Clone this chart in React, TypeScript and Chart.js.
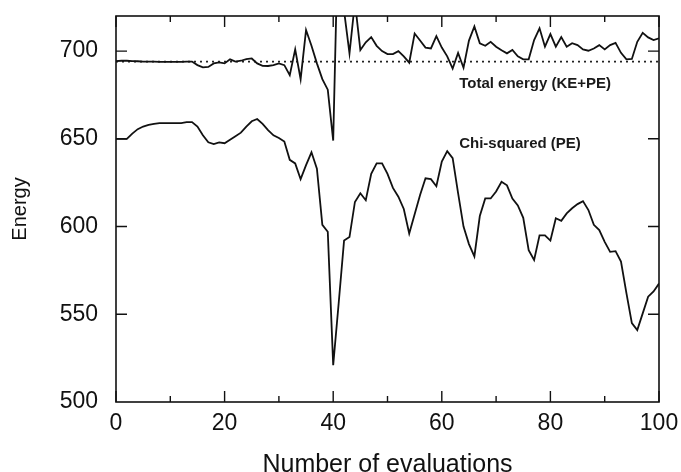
import React, { useEffect, useRef } from 'react';
import { Chart, registerables } from 'chart.js';

Chart.register(...registerables);

// Chi-squared (PE) per evaluation, evaluations 0..100
const chiSquared = [
  650, 650, 650, 653, 655.5, 657, 658, 658.5, 659, 659,
  659, 659, 659, 659.5, 659.5, 657, 652, 648, 647, 648,
  647.5, 649.5, 651.5, 653.5, 657, 660, 661.3, 658.5, 655, 652,
  650.5, 648.5, 638, 636, 627, 635, 642.3, 633, 601, 597,
  521, 556, 592, 594, 614, 619, 615, 630, 636, 636,
  630, 622, 617, 610, 596, 607, 618, 627.5, 627, 623,
  637, 643, 639, 619, 600, 590, 583, 606, 616, 616,
  620, 625.5, 623.5, 616, 612, 605, 586.5, 581, 595, 595,
  592, 604.7, 603.3, 607.5, 610.4, 612.8, 614.5, 609.4, 601, 598,
  591.3, 585.6, 586, 580, 562, 545, 541, 550.5, 560, 563, 567.5,
];

// Total energy (KE+PE) per evaluation, evaluations 0..100
const totalEnergy = [
  694.3, 694.5, 694.5, 694.3, 694.2, 694, 694, 694, 693.8, 693.8,
  693.8, 693.8, 693.8, 694, 694, 692, 690.7, 691, 693, 693.6,
  693, 695.3, 694, 694.5, 695.4, 695.8, 693, 691.6, 691.5, 692,
  693, 692, 686.3, 701, 684, 712, 703, 693, 684, 678,
  649, 780, 723, 698.7, 728, 700.6, 705, 708, 703, 700,
  698.3, 698.3, 700, 697, 693.4, 710, 706, 702, 701.5, 708.5,
  702, 697, 690, 699, 690.5, 706, 714, 704.4, 703, 705.3,
  702.5, 700.5, 698.7, 700.6, 697, 695.3, 695.3, 706.3, 713, 702.5,
  709.7, 702.5, 708, 702.5, 704.5, 703.4, 701, 700.2, 701.5, 703.4,
  701, 703.4, 704.7, 699, 695.3, 695.5, 705.3, 710.4, 707.8, 706.3, 707.3,
];

const initialEnergy = 694;
const xRange = [0, 100];
const yRange = [500, 720];
const xMajorTicks = [0, 20, 40, 60, 80, 100];
const xMinorTicks = [10, 30, 50, 70, 90];
const yMajorTicks = [550, 600, 650, 700];
const annotations = [
  { text: 'Total energy (KE+PE)', x: 63.2, y: 681.2 },
  { text: 'Chi-squared (PE)', x: 63.2, y: 647 },
];

const FONT = '"Liberation Sans", Arial, sans-serif';

const framePlugin = {
  id: 'frameTicks',
  afterDatasetsDraw(chart: any) {
    const { ctx, chartArea, scales } = chart;
    const { left, right, top, bottom } = chartArea;
    ctx.save();
    ctx.strokeStyle = '#111';
    ctx.lineWidth = 1.6;
    ctx.strokeRect(left, top, right - left, bottom - top);
    ctx.lineWidth = 1.4;
    ctx.beginPath();
    const xs = scales.x;
    const ys = scales.y;
    const drawX = (v: number, len: number) => {
      const px = xs.getPixelForValue(v);
      ctx.moveTo(px, bottom);
      ctx.lineTo(px, bottom - len);
      ctx.moveTo(px, top);
      ctx.lineTo(px, top + len);
    };
    xMajorTicks.forEach((v) => drawX(v, 11));
    xMinorTicks.forEach((v) => drawX(v, 6));
    yMajorTicks.forEach((v) => {
      const py = ys.getPixelForValue(v);
      ctx.moveTo(left, py);
      ctx.lineTo(left + 11, py);
      ctx.moveTo(right, py);
      ctx.lineTo(right - 11, py);
    });
    ctx.stroke();

    ctx.fillStyle = '#1a1a1a';
    ctx.font = `bold 15px ${FONT}`;
    ctx.textAlign = 'left';
    ctx.textBaseline = 'middle';
    annotations.forEach((a) => {
      ctx.fillText(a.text, xs.getPixelForValue(a.x), ys.getPixelForValue(a.y));
    });
    ctx.restore();
  },
};

const zeroPad = (s: any) => {
  s.paddingTop = 0;
  s.paddingBottom = 0;
  s.paddingLeft = 0;
  s.paddingRight = 0;
};

export default function App() {
  const canvasRef = useRef<HTMLCanvasElement | null>(null);

  useEffect(() => {
    if (!canvasRef.current) return;
    const chart = new Chart(canvasRef.current, {
      type: 'line',
      data: {
        datasets: [
          {
            label: 'Total energy (KE+PE)',
            data: totalEnergy.map((v, i) => ({ x: i, y: v })),
            borderColor: '#111',
            borderWidth: 1.8,
            pointRadius: 0,
            tension: 0,
            fill: false,
          },
          {
            label: 'Chi-squared (PE)',
            data: chiSquared.map((v, i) => ({ x: i, y: v })),
            borderColor: '#111',
            borderWidth: 1.8,
            pointRadius: 0,
            tension: 0,
            fill: false,
          },
          {
            label: 'Initial energy',
            data: [
              { x: xRange[0], y: initialEnergy },
              { x: xRange[1], y: initialEnergy },
            ],
            borderColor: '#222',
            borderWidth: 1.6,
            borderDash: [2, 4],
            pointRadius: 0,
            fill: false,
          },
        ],
      },
      options: {
        animation: false,
        responsive: false,
        clip: 0,
        layout: { padding: { top: 16, right: 22, left: 0, bottom: 0 } },
        plugins: {
          legend: { display: false },
          tooltip: { enabled: false },
        },
        scales: {
          x: {
            type: 'linear',
            min: xRange[0],
            max: xRange[1],
            grid: { display: false, drawTicks: false },
            border: { display: false },
            ticks: {
              stepSize: 20,
              maxRotation: 0,
              padding: 8,
              color: '#111',
              font: { family: FONT, size: 23 },
            },
            title: {
              display: true,
              text: 'Number of evaluations',
              color: '#111',
              font: { family: FONT, size: 25, lineHeight: 1 },
              padding: { top: 0, bottom: -6 },
            },
            afterFit: (s: any) => {
              s.height = 70;
              zeroPad(s);
            },
          },
          y: {
            type: 'linear',
            min: yRange[0],
            max: yRange[1],
            grid: { display: false, drawTicks: false },
            border: { display: false },
            ticks: {
              stepSize: 50,
              padding: 18,
              color: '#111',
              font: { family: FONT, size: 23 },
            },
            afterBuildTicks: (s: any) => {
              s.ticks = s.ticks.filter((t: any) => t.value % 50 === 0 && t.value <= 700);
            },
            title: {
              display: true,
              text: 'Energy',
              color: '#111',
              font: { family: FONT, size: 20, lineHeight: 1 },
              padding: { top: 10, bottom: 0 },
            },
            afterFit: (s: any) => {
              s.width = 116;
              zeroPad(s);
            },
          },
        },
      },
      plugins: [framePlugin],
    });
    return () => chart.destroy();
  }, []);

  return (
    <div style={{ position: 'absolute', left: 0, top: 0, width: 681, height: 472, background: '#fff' }}>
      <canvas ref={canvasRef} width={681} height={472} />
    </div>
  );
}
